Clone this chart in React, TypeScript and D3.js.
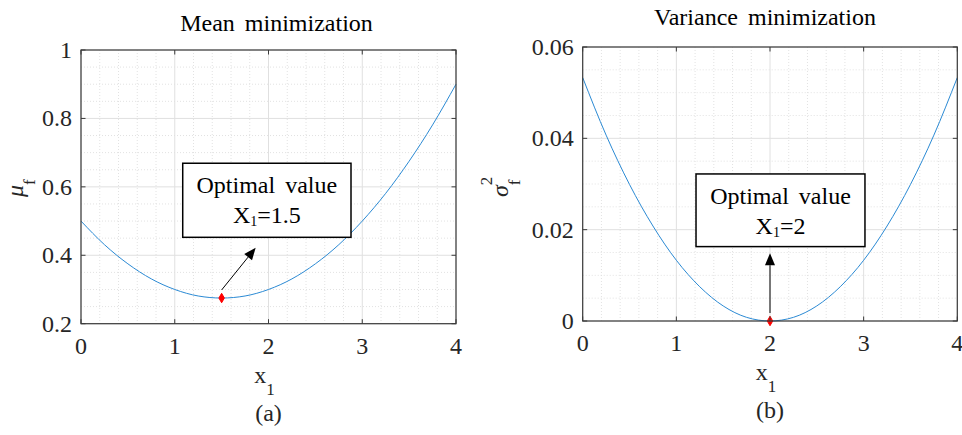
import React from 'react'
import * as d3 from 'd3'

const xSamples = [0, 0.25, 0.5, 0.75, 1, 1.25, 1.5, 1.75, 2, 2.25, 2.5, 2.75, 3, 3.25, 3.5, 3.75, 4]
const meanValues = [0.5, 0.431, 0.375, 0.331, 0.3, 0.281, 0.275, 0.281, 0.3, 0.331, 0.375, 0.431, 0.5, 0.581, 0.675, 0.781, 0.9]
const varianceValues = [0.0533, 0.0407, 0.0299, 0.0208, 0.0133, 0.0075, 0.0033, 0.0008, 0, 0.0008, 0.0033, 0.0075, 0.0133, 0.0208, 0.0299, 0.0407, 0.0533]

const xTicks = [0, 1, 2, 3, 4]
const xTickLabels = ['0', '1', '2', '3', '4']
const meanYTicks = [0.2, 0.4, 0.6, 0.8, 1]
const meanYTickLabels = ['0.2', '0.4', '0.6', '0.8', '1']
const varYTicks = [0, 0.02, 0.04, 0.06]
const varYTickLabels = ['0', '0.02', '0.04', '0.06']

// optimum points
const meanOptimum = { x: 1.5, y: 0.275, label: '1.5' }
const varOptimum = { x: 2, y: 0, label: '2' }

const FONT = "'Liberation Serif', 'Times New Roman', serif"
const FS = 24
const SUB = 17

type PanelProps = {
  left: number
  right: number
  top: number
  bottom: number
  yDomain: [number, number]
  yTicks: number[]
  yTickLabels: string[]
  yMinorStep: number
  values: number[]
  title: string
  titleDx: number
  titleDy: number
  yLabel: 'mu' | 'sigma'
  yLabelX: number
  caption: string
  optimum: { x: number; y: number; label: string }
  box: { x0: number; x1: number; y0: number; y1: number }
  arrow: { x0: number; y0: number; x1: number; y1: number }
}

const Panel = (p: PanelProps) => {
  const x = d3.scaleLinear().domain([0, 4]).range([p.left, p.right])
  const y = d3.scaleLinear().domain(p.yDomain).range([p.bottom, p.top])

  const xMinor = d3.range(0, 4.0001, 0.2).filter((v) => Math.abs(v - Math.round(v)) > 1e-6)
  const yMinor = d3
    .range(p.yDomain[0], p.yDomain[1] + 1e-9, p.yMinorStep)
    .filter((v) => !p.yTicks.some((t) => Math.abs(t - v) < p.yMinorStep / 10))

  const line = d3
    .line<number>()
    .x((_, i) => x(xSamples[i]))
    .y((d) => y(d))
    .curve(d3.curveMonotoneX)

  const diamond = d3.symbol().type(d3.symbolDiamond).size(26)()

  // arrow geometry
  const ax0 = x(p.arrow.x0)
  const ay0 = y(p.arrow.y0)
  const ax1 = x(p.arrow.x1)
  const ay1 = y(p.arrow.y1)
  const ang = Math.atan2(ay1 - ay0, ax1 - ax0)
  const headLen = 12
  const headW = 5
  const bx = ax1 - headLen * Math.cos(ang)
  const by = ay1 - headLen * Math.sin(ang)
  const head = [
    [ax1, ay1],
    [bx + headW * Math.sin(ang), by - headW * Math.cos(ang)],
    [bx - headW * Math.sin(ang), by + headW * Math.cos(ang)]
  ]

  const bx0 = x(p.box.x0)
  const bx1 = x(p.box.x1)
  const byTop = y(p.box.y0)
  const byBot = y(p.box.y1)
  const cx = (p.left + p.right) / 2
  const tick = 4.5

  return (
    <g fontFamily={FONT} fill="#262626">
      {/* grid */}
      {xMinor.map((v) => (
        <line key={'xm' + v} x1={x(v)} x2={x(v)} y1={p.top} y2={p.bottom} stroke="#e2e2e2" strokeDasharray="1,2" />
      ))}
      {yMinor.map((v) => (
        <line key={'ym' + v} x1={p.left} x2={p.right} y1={y(v)} y2={y(v)} stroke="#e2e2e2" strokeDasharray="1,2" />
      ))}
      {xTicks.map((v) => (
        <line key={'xg' + v} x1={x(v)} x2={x(v)} y1={p.top} y2={p.bottom} stroke="#e0e0e0" />
      ))}
      {p.yTicks.map((v) => (
        <line key={'yg' + v} x1={p.left} x2={p.right} y1={y(v)} y2={y(v)} stroke="#e0e0e0" />
      ))}

      {/* curve */}
      <path d={line(p.values) || ''} fill="none" stroke="#2b8ad4" strokeWidth={1} />

      {/* annotation box */}
      <rect x={bx0} y={byTop} width={bx1 - bx0} height={byBot - byTop} fill="#fff" stroke="#000" strokeWidth={1.5} />
      <text x={(bx0 + bx1) / 2} y={byTop + 30} textAnchor="middle" fontSize={FS} fill="#000" wordSpacing={4}>
        Optimal value
      </text>
      <text x={(bx0 + bx1) / 2} y={byTop + 60} textAnchor="middle" fontSize={FS} fill="#000">
        X<tspan fontSize={14} dy={3}>1</tspan>
        <tspan dy={-3}>={p.optimum.label}</tspan>
      </text>

      {/* arrow */}
      <line x1={ax0} y1={ay0} x2={bx} y2={by} stroke="#000" strokeWidth={1} />
      <polygon points={head.map((d) => d.join(',')).join(' ')} fill="#000" />

      {/* optimum marker */}
      <path d={diamond || ''} transform={`translate(${x(p.optimum.x)},${y(p.optimum.y)})`} fill="#ff0000" stroke="#ff0000" />

      {/* axes box and ticks */}
      <rect x={p.left} y={p.top} width={p.right - p.left} height={p.bottom - p.top} fill="none" stroke="#3a3a3a" strokeWidth={1.2} />
      {xTicks.map((v) => (
        <g key={'xt' + v}>
          <line x1={x(v)} x2={x(v)} y1={p.bottom} y2={p.bottom - tick} stroke="#3a3a3a" />
          <line x1={x(v)} x2={x(v)} y1={p.top} y2={p.top + tick} stroke="#3a3a3a" />
        </g>
      ))}
      {p.yTicks.map((v) => (
        <g key={'yt' + v}>
          <line x1={p.left} x2={p.left + tick} y1={y(v)} y2={y(v)} stroke="#3a3a3a" />
          <line x1={p.right} x2={p.right - tick} y1={y(v)} y2={y(v)} stroke="#3a3a3a" />
        </g>
      ))}

      {/* tick labels */}
      {xTicks.map((v, i) => (
        <text key={'xl' + v} x={x(v)} y={p.bottom + 30} textAnchor="middle" fontSize={FS}>
          {xTickLabels[i]}
        </text>
      ))}
      {p.yTicks.map((v, i) => (
        <text key={'yl' + v} x={p.left - 9} y={y(v) + 8} textAnchor="end" fontSize={FS}>
          {p.yTickLabels[i]}
        </text>
      ))}

      {/* title */}
      <text x={cx + p.titleDx} y={p.top - p.titleDy} textAnchor="middle" fontSize={FS} fill="#000" wordSpacing={4}>
        {p.title}
      </text>

      {/* x label */}
      <text x={cx - 4} y={p.bottom + 59} textAnchor="middle" fontSize={FS}>
        x<tspan fontSize={SUB} dy={12}>1</tspan>
      </text>

      {/* y label */}
      {p.yLabel === 'mu' ? (
        <text transform={`translate(${p.yLabelX},197) rotate(-90)`} fontSize={FS}>
          <tspan fontStyle="italic">μ</tspan>
          <tspan fontSize={SUB} dy={12}>f</tspan>
        </text>
      ) : (
        <text transform={`translate(${p.yLabelX},197) rotate(-90)`} fontSize={FS}>
          <tspan fontStyle="italic">σ</tspan>
          <tspan fontSize={SUB} dy={-16}>2</tspan>
          <tspan fontSize={SUB} dx={-8.5} dy={28}>f</tspan>
        </text>
      )}

      {/* caption */}
      <text x={cx} y={p.bottom + 97} textAnchor="middle" fontSize={FS}>
        {p.caption}
      </text>
    </g>
  )
}

const App = () => {
  return (
    <svg
      width={962}
      height={435}
      style={{ position: 'absolute', left: 0, top: 0, background: '#fff' }}
    >
      <Panel
        left={81}
        right={456}
        top={50}
        bottom={323.7}
        yDomain={[0.2, 1]}
        yTicks={meanYTicks}
        yTickLabels={meanYTickLabels}
        yMinorStep={0.05}
        values={meanValues}
        title="Mean minimization"
        titleDx={8}
        titleDy={19}
        yLabel="mu"
        yLabelX={23}
        caption="(a)"
        optimum={meanOptimum}
        box={{ x0: 1.085, x1: 2.88, y0: 0.669, y1: 0.4525 }}
        arrow={{ x0: 1.5, y0: 0.2986, x1: 1.863, y1: 0.422 }}
      />
      <Panel
        left={582.7}
        right={957.3}
        top={47}
        bottom={321}
        yDomain={[0, 0.06]}
        yTicks={varYTicks}
        yTickLabels={varYTickLabels}
        yMinorStep={0.005}
        values={varianceValues}
        title="Variance minimization"
        titleDx={-5}
        titleDy={22}
        yLabel="sigma"
        yLabelX={508}
        caption="(b)"
        optimum={varOptimum}
        box={{ x0: 1.21, x1: 3.014, y0: 0.0322, y1: 0.01629 }}
        arrow={{ x0: 2, y0: 0.00175, x1: 2, y1: 0.01484 }}
      />
    </svg>
  )
}

export default App
